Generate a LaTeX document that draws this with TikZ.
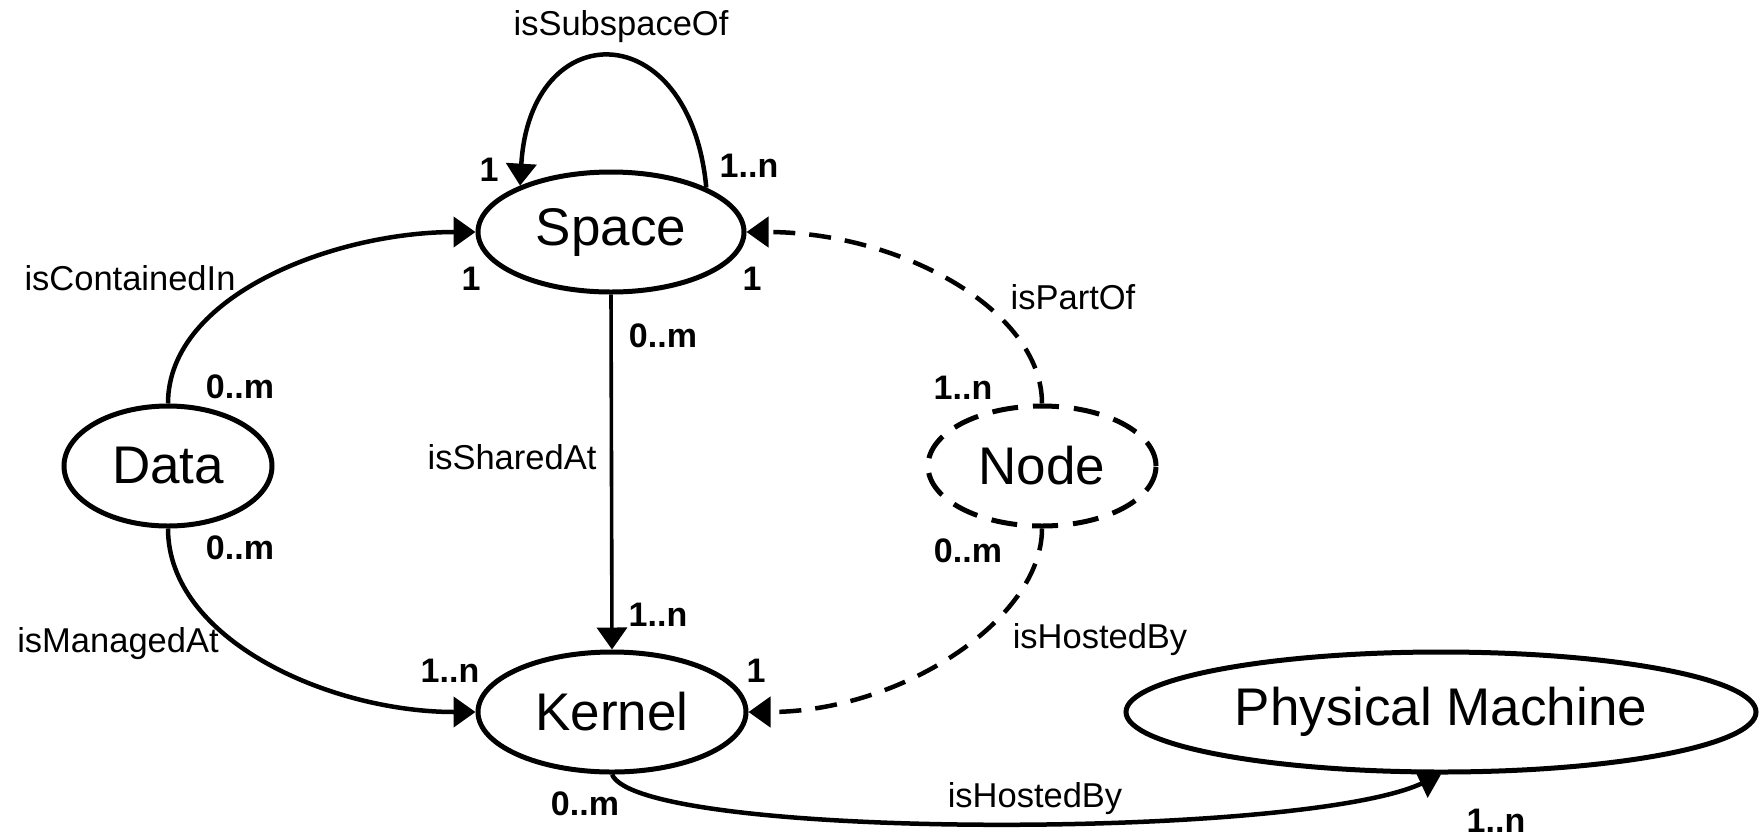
\documentclass[tikz,border=0pt]{standalone}
\usepackage{fontspec}
\setmainfont{Liberation Sans}
\usetikzlibrary{arrows.meta,shapes.geometric}
\begin{document}
\begin{tikzpicture}[x=1pt,y=-1pt,
  ent/.style={draw, ellipse, line width=5pt, inner sep=0pt, minimum height=120pt, font=\fontsize{53}{60}\selectfont},
  rel/.style={font=\fontsize{34.5}{40}\selectfont, inner sep=0pt},
  card/.style={font=\fontsize{34}{40}\selectfont\bfseries, inner sep=0pt},
  conn/.style={line width=4.5pt, -{Triangle[length=22pt,width=30pt]}},
  dashconn/.style={conn, dash pattern=on 22pt off 14pt},
]
\useasboundingbox (0,0) rectangle (1760,839);
% entities
\node[ent, minimum width=266pt] (space) at (611,232) {Space};
\node[ent, minimum width=208pt] (data) at (168,466) {Data};
\node[ent, minimum width=228pt, dash pattern=on 26pt off 15pt] (nodeE) at (1042,466) {Node};
\node[ent, minimum width=268pt] (kernel) at (612,712) {Kernel};
\node[ent, minimum width=630pt] (pm) at (1441,712) {Physical Machine};
% connectors
\draw[conn] (space.25) .. controls (690,14) and (530,14) .. (space.153);
\draw[conn] (data.north) .. controls (168,295) and (335,232) .. (space.west);
\draw[conn, line width=3.6pt] (space.south) -- (kernel.north);
\draw[conn] (data.south) .. controls (168,640) and (330,712) .. (kernel.west);
\draw[dashconn] (nodeE.north) .. controls (1042,310) and (900,232) .. (space.east);
\draw[dashconn] (nodeE.south) .. controls (1042,620) and (900,712) .. (kernel.east);
\draw[conn] (kernel.south) .. controls (640,840) and (1300,840) .. (pm.south);
% relation labels
\node[rel] (l1) at (621,27) {isSubspaceOf};
\node[rel] (l2) at (130,278) {isContainedIn};
\node[rel] (l3) at (1073,297) {isPartOf};
\node[rel] (l4) at (512,457) {isSharedAt};
\node[rel] (l5) at (118,644) {isManagedAt};
\node[rel] (l6) at (1100,640) {isHostedBy};
\node[rel] (l7) at (1035,799) {isHostedBy};
% cardinalities
\node[card] (c1) at (489,170) {1};
\node[card] (c2) at (749,166) {1..n};
\node[card] (c3) at (471,279) {1};
\node[card] (c4) at (752,279) {1};
\node[card] (c5) at (663,336) {0..m};
\node[card] (c6) at (240,387) {0..m};
\node[card] (c7) at (963,388) {1..n};
\node[card] (c8) at (240,548) {0..m};
\node[card] (c9) at (968,551) {0..m};
\node[card] (c10) at (658,615) {1..n};
\node[card] (c11) at (450,671) {1..n};
\node[card] (c12) at (756,671) {1};
\node[card] (c13) at (585,804) {0..m};
\node[card] (c14) at (1496,821) {1..n};
\end{tikzpicture}
\end{document}
